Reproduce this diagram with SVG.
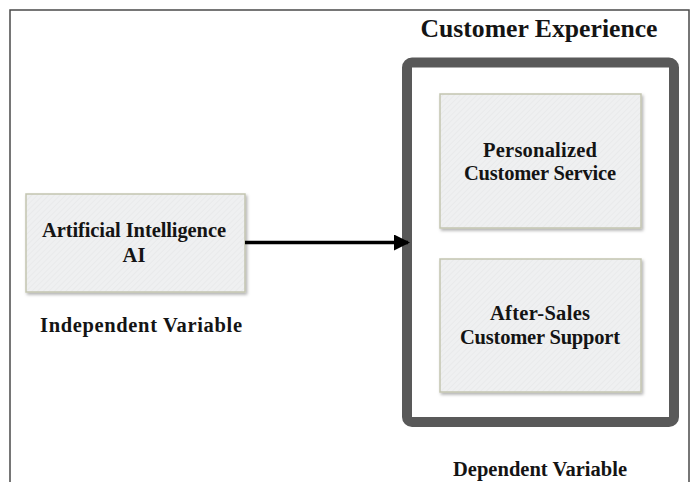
<svg xmlns="http://www.w3.org/2000/svg" width="696" height="482" viewBox="0 0 696 482">
<defs>
<pattern id="hatch" width="4" height="4" patternUnits="userSpaceOnUse" patternTransform="rotate(45)">
<rect width="4" height="4" fill="#eff0f1"/>
<line x1="0" y1="0" x2="0" y2="4" stroke="#e4e5e6" stroke-width="1"/>
</pattern>
<marker id="arrow" markerWidth="16" markerHeight="16" refX="14" refY="8" orient="auto" markerUnits="userSpaceOnUse" viewBox="0 0 16 16">
<path d="M0,0 L16,8 L0,16 Z" fill="#000"/>
</marker>
<filter id="sh" x="-10%" y="-10%" width="130%" height="130%">
<feDropShadow dx="1.5" dy="2" stdDeviation="1.5" flood-color="#000" flood-opacity="0.3"/>
</filter>
</defs>
<style>
.t{font-family:"Liberation Serif","Times New Roman",serif;font-weight:bold;fill:#141414;text-anchor:middle}
.box{fill:url(#hatch);stroke:#c3c5b0;stroke-width:1.5;filter:url(#sh)}
</style>
<rect width="696" height="482" fill="#fff"/>
<path d="M10,482 V10 H689 V482" fill="none" stroke="#4a4a4a" stroke-width="1.5"/>
<g id="title"><text class="t" x="539" y="37" font-size="26" textLength="237" lengthAdjust="spacingAndGlyphs">Customer Experience</text></g>
<g id="customer-experience">
<rect x="407" y="62.5" width="267" height="359.5" rx="5" fill="#fff" stroke="#595959" stroke-width="10"/>
</g>
<g id="personalized">
<rect class="box" x="440" y="94" width="201" height="134"/>
<text class="t" x="540" y="157" font-size="20.5" textLength="114">Personalized</text>
<text class="t" x="540" y="180" font-size="20.5" textLength="152">Customer Service</text>
</g>
<g id="after-sales">
<rect class="box" x="440" y="259" width="201" height="133"/>
<text class="t" x="540" y="320" font-size="20.5" textLength="100">After-Sales</text>
<text class="t" x="540" y="344" font-size="20.5" textLength="160">Customer Support</text>
</g>
<g id="ai">
<rect class="box" x="26" y="194" width="219" height="98"/>
<text class="t" x="134" y="237" font-size="20.5" textLength="184">Artificial Intelligence</text>
<text class="t" x="134" y="262" font-size="20.5">AI</text>
</g>
<g id="labels">
<text class="t" x="141" y="332" font-size="20.5" textLength="202">Independent Variable</text>
<text class="t" x="540" y="476" font-size="20.5" textLength="174">Dependent Variable</text>
</g>
<g id="connectors">
<line x1="245" y1="242.5" x2="408" y2="242.5" stroke="#000" stroke-width="3.5" marker-end="url(#arrow)"/>
</g>
</svg>
